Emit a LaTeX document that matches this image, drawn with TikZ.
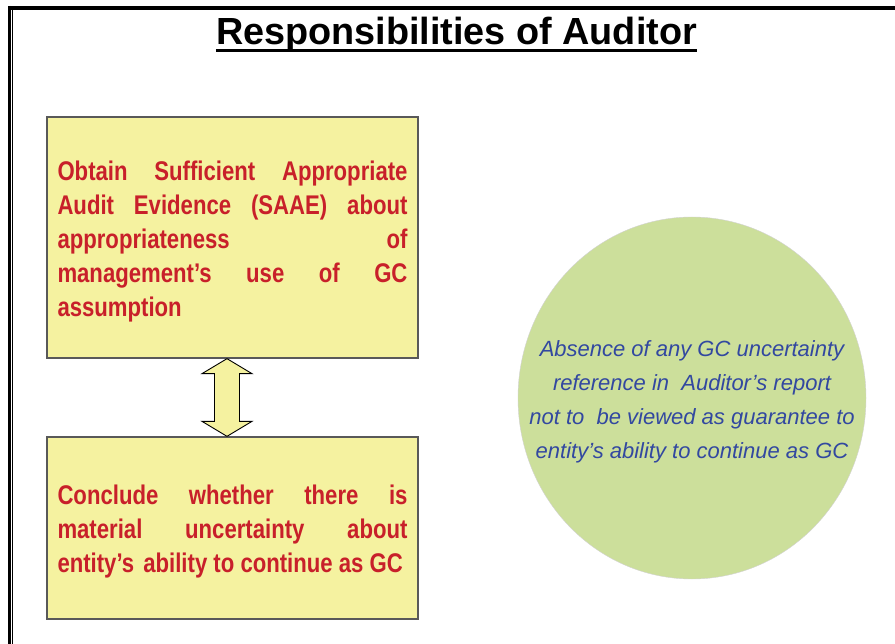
\documentclass[tikz,border=0pt]{standalone}
\usepackage{fontspec}
\setmainfont{Liberation Sans}
\newfontfamily\narrowsans[FakeStretch=0.82]{Liberation Sans}
\usetikzlibrary{calc}
\definecolor{boxfill}{RGB}{245,242,160}
\definecolor{boxtext}{RGB}{200,32,42}
\definecolor{gcgreen}{RGB}{204,223,155}
\definecolor{gcblue}{RGB}{50,72,160}

\begin{document}
\begin{tikzpicture}[x=1pt,y=-1pt,
  taskbox/.style={draw=black!65,line width=1.3pt,fill=boxfill,minimum width=371pt,inner sep=0pt,
    text width=350pt,align=justify,text=boxtext,font=\narrowsans\bfseries\fontsize{27}{34}\selectfont},
  linkarrow/.style={draw=black,line width=0.9pt,fill=boxfill,line join=miter}]
\useasboundingbox (0,0) rectangle (895,644);
\fill[white] (0,0) rectangle (895,644);
\draw[line width=4pt] (8,8) -- (895,8);
\draw[line width=2.5pt] (9.5,6) -- (9.5,644);
\draw[line width=1pt] (12.7,8) -- (12.7,644);

\node[anchor=base,inner sep=0pt,font=\bfseries\fontsize{37.8}{40}\selectfont] (title) at (456.5,45) {Responsibilities of Auditor};
\draw[line width=3pt] ($(title.base west)+(0,5.5)$) -- ($(title.base east)+(0,5.5)$);

\node[taskbox,minimum height=241pt] (obtain) at (232.5,237.5)
  {\rule{0pt}{27pt}Obtain Sufficient Appropriate\linebreak Audit Evidence (SAAE) about\linebreak appropriateness of\linebreak management’s use of GC\linebreak assumption};
\node[taskbox,minimum height=182pt] (conclude) at (232.5,528)
  {\rule{0pt}{27pt}Conclude whether there is\linebreak material uncertainty about\linebreak entity’s\kern3pt{} ability to continue as GC};

\coordinate (up) at (227,0 |- obtain.south);
\coordinate (down) at (227,0 |- conclude.north);
\draw[linkarrow] (up) -- ++(25,15) -- ++(-12.5,0) -- ($(down)+(12.5,-15)$) -- ++(12.5,0) -- (down)
  -- ++(-25,-15) -- ++(12.5,0) -- ($(up)+(-12.5,15)$) -- ++(-12.5,0) -- cycle;

\fill[gcgreen] (692,398) ellipse [x radius=174pt,y radius=181pt];
\draw[gray!35,line width=0.4pt] (692,398) ellipse [x radius=174pt,y radius=181pt];
\node[align=center,text=gcblue,font=\itshape\fontsize{22}{34}\selectfont] (absence) at (692,402)
  {Absence of any GC uncertainty\\reference in\ \ Auditor’s report\\not to\ \ be viewed as guarantee to\\entity’s ability to continue as GC};
\end{tikzpicture}
\end{document}
